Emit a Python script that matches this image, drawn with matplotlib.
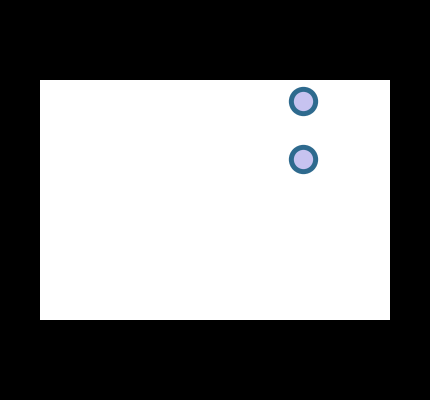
import numpy as np
import matplotlib
matplotlib.use('Agg')
import matplotlib.pyplot as plt

# two points, no axes shown
x_vals = [0.751, 0.751]
y_vals = [0.912, 0.671]

fig = plt.figure(figsize=(4.3, 4.0), dpi=100, facecolor='black')
ax = fig.add_axes([40 / 430, 80 / 400, 350 / 430, 240 / 400])
ax.set_facecolor('white')
ax.scatter(x_vals, y_vals,
           s=17.5 ** 2,
           facecolor='#c7c3f0',
           edgecolor='#2e6a8e',
           linewidths=3.6,
           zorder=3)
ax.set_xlim(0, 1)
ax.set_ylim(0, 1)
ax.set_xticks([])
ax.set_yticks([])
for sp in ax.spines.values():
    sp.set_visible(False)

plt.savefig('out.png', dpi=100, facecolor='black')
